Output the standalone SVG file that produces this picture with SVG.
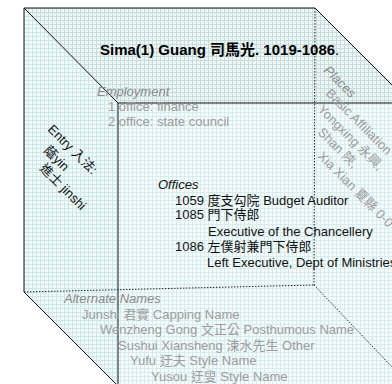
<svg xmlns="http://www.w3.org/2000/svg" width="392" height="384" viewBox="0 0 392 384">
  <defs>
    <pattern id="gridA" width="4" height="4" patternUnits="userSpaceOnUse">
      <rect width="4" height="4" fill="#f6fbfb"/>
      <path d="M0.5 0V4M0 0.5H4" stroke="#d6ecee" stroke-width="1"/>
    </pattern>
    <pattern id="gridB" width="4" height="4" patternUnits="userSpaceOnUse">
      <rect width="4" height="4" fill="#eef5f5"/>
      <path d="M0.5 0V4M0 0.5H4" stroke="#c6dcdd" stroke-width="1"/>
    </pattern>
    <pattern id="gridC" width="4" height="4" patternUnits="userSpaceOnUse">
      <rect width="4" height="4" fill="#f3fafa"/>
      <path d="M0.5 0V4M0 0.5H4" stroke="#cde8eb" stroke-width="1"/>
    </pattern>
  </defs>
  <style>
    text { font-family: "Liberation Sans", Arial, "Noto Sans CJK TC", sans-serif; font-size: 13px; }
    .title { font-size: 15px; font-weight: bold; fill: #000; }
    .blk { fill: #111; }
    .lbl { font-style: italic; fill: #8a8a8a; }
    .lblk { font-style: italic; fill: #111; }
    .gry { fill: #9c9c9c; }
    .solid { stroke: #111; stroke-width: 1; fill: none; }
    .dot { stroke: #222; stroke-width: 1; stroke-dasharray: 1.5 1.5; fill: none; }
  </style>

  <rect width="392" height="384" fill="#ffffff"/>

  <!-- faces -->
  <g id="faces">
    <polygon points="24,8 315,8 392,83 392,384 116,384 24,292" fill="url(#gridA)"/>
    <polygon points="24,8 118,103 118,384 116,384 24,292" fill="url(#gridC)"/>
    <polygon points="24,8 315,8 392,83 392,103 118,103" fill="url(#gridB)"/>
  </g>

  <!-- edges -->
  <g id="connectors">
    <polyline class="solid" points="24,292 24,8 315,8"/>
    <line class="solid" x1="24" y1="8" x2="118" y2="103"/>
    <line class="solid" x1="315" y1="8" x2="410" y2="103"/>
    <line class="solid" x1="24" y1="292" x2="116" y2="384"/>
    <polyline class="solid" points="118,384 118,103 392,103"/>
    <line class="dot" x1="315" y1="8" x2="314" y2="285"/>
    <line class="dot" x1="24" y1="292" x2="314" y2="285"/>
    <line class="dot" x1="314" y1="285" x2="392" y2="367"/>
  </g>

  <g id="title">
    <text class="title" x="100" y="55">Sima(1) Guang 司馬光. 1019-1086<tspan style="font-weight:normal">.</tspan></text>
  </g>

  <g id="employment">
    <text class="lbl" x="97" y="96">Employment</text>
    <text class="gry" x="108" y="111">1 office: finance</text>
    <text class="gry" x="108" y="126">2 office: state council</text>
  </g>

  <g id="entry">
    <text class="blk" transform="translate(47,130) rotate(45)">Entry 入法:</text>
    <text class="blk" transform="translate(43,151) rotate(45)">蔭yin</text>
    <text class="blk" transform="translate(39,169) rotate(45)">進士 jinshi</text>
  </g>

  <g id="places">
    <text class="lbl" transform="translate(323,71) rotate(45)">Places</text>
    <text class="gry" transform="translate(325,94) rotate(45)">Basic Affiliation</text>
    <text class="gry" transform="translate(317,110) rotate(45)">Yongxing 永興,</text>
    <text class="gry" transform="translate(317,133) rotate(45)">Shan 陝,</text>
    <text class="gry" transform="translate(317,157) rotate(45)">Xia Xian 夏縣 0-0</text>
  </g>

  <g id="offices">
    <text class="lblk" x="158" y="189">Offices</text>
    <text class="blk" x="175" y="205">1059 度支勾院 Budget Auditor</text>
    <text class="blk" x="175" y="219">1085 門下侍郎</text>
    <text class="blk" x="208" y="236">Executive of the Chancellery</text>
    <text class="blk" x="175" y="251">1086 左僕射兼門下侍郎</text>
    <text class="blk" x="207" y="267">Left Executive, Dept of Ministries</text>
  </g>

  <g id="alternate-names">
    <text class="lbl" x="64" y="303">Alternate Names</text>
    <text class="gry" x="82" y="319">Junshi 君實 Capping Name</text>
    <text class="gry" x="100" y="334">Wenzheng Gong 文正公 Posthumous Name</text>
    <text class="gry" x="118" y="350">Sushui Xiansheng 涑水先生 Other</text>
    <text class="gry" x="130" y="365">Yufu 迂夫 Style Name</text>
    <text class="gry" x="151" y="381">Yusou 迂叟 Style Name</text>
  </g>
</svg>
